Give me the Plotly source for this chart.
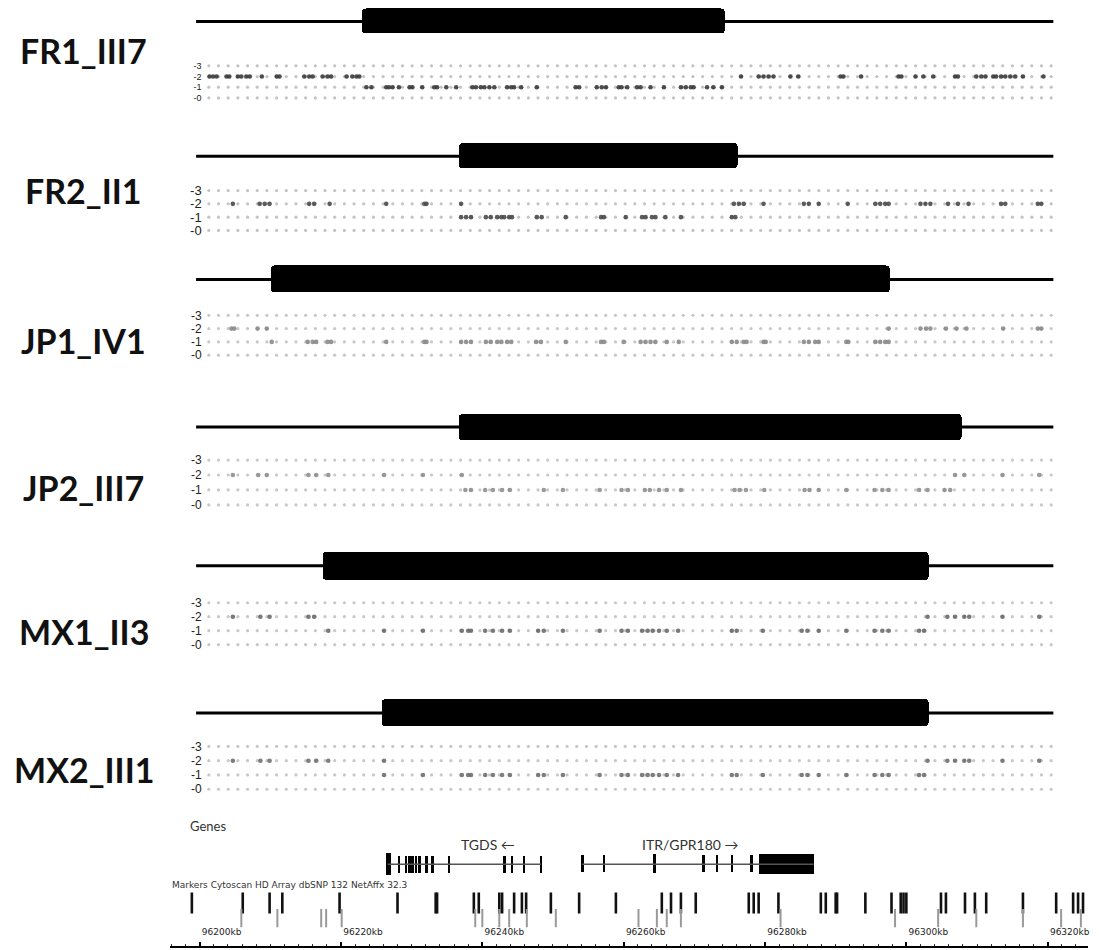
import plotly.graph_objects as go

# ---------------- data (positions in kb, relative to 96200 kb) ----------------
SAMPLES = ["FR1_III7", "FR2_II1", "JP1_IV1", "JP2_III7", "MX1_II3", "MX2_III1"]
DEL_START = [23.0, 36.7, 10.0, 36.6, 17.4, 25.7]
DEL_END = [74.3, 76.1, 97.6, 107.9, 103.2, 103.2]
LINE_START = -0.5
LINE_END = 120.8

ROW_LABELS = ["-0", "-1", "-2", "-3"]

FR1_M2 = [1.4, 1.9, 2.4, 3.8, 4.2, 5.4, 5.9, 6.6, 7.1, 8.8, 10.9, 11.3, 14.8, 15.5, 16.0, 17.4, 18.1, 18.6,
          20.8, 21.6, 22.2, 22.6, 76.6, 79.1, 79.8, 80.5, 81.2, 83.6, 84.7, 90.7, 91.1, 93.6, 98.9, 99.3,
          101.3, 102.4, 103.8, 106.9, 107.3, 109.9, 110.6, 111.2, 112.3, 112.7, 113.4, 114.0, 114.7, 115.4,
          116.5, 119.4]
FR1_M1 = [23.6, 24.3, 26.4, 26.8, 27.3, 28.2, 29.7, 30.1, 31.5, 33.2, 33.6, 34.9, 36.3, 38.6, 39.1, 39.8,
          40.3, 41.0, 41.7, 43.5, 44.1, 44.5, 45.5, 47.7, 53.2, 53.7, 56.2, 56.9, 57.5, 59.3, 59.7, 60.5,
          61.9, 62.4, 63.8, 65.7, 68.1, 68.8, 69.5, 69.9, 71.8, 72.7, 73.9]
FR2_M2 = [4.7, 8.5, 9.2, 9.9, 15.5, 16.2, 18.4, 26.4, 31.8, 32.1, 37.0, 75.6, 76.3, 77.0, 79.8, 85.5, 86.2,
          87.6, 91.7, 95.6, 96.3, 97.0, 97.5, 102.0, 102.7, 103.4, 105.9, 107.3, 108.8, 113.4, 114.0,
          118.6, 119.1]
FR2_M1 = [37.0, 37.7, 38.4, 40.5, 41.2, 42.1, 42.7, 43.1, 43.8, 44.2, 47.7, 48.4, 51.8, 56.8, 57.2, 60.3,
          62.6, 63.1, 64.0, 64.5, 65.9, 68.1, 75.3, 75.8]
JP1_M2 = [4.5, 4.9, 8.2, 9.5, 97.5, 102.0, 102.8, 103.4, 105.6, 107.1, 108.5, 113.7, 118.6, 119.1]
JP1_M1 = [10.2, 15.3, 16.0, 16.5, 18.1, 18.6, 26.4, 31.8, 32.1, 37.0, 37.7, 38.4, 40.5, 41.2, 42.1, 42.7,
          43.5, 44.1, 47.6, 48.3, 51.8, 56.8, 57.2, 60.0, 62.4, 63.1, 63.8, 64.5, 66.1, 67.8, 75.3, 76.0,
          77.0, 77.4, 79.8, 80.1, 85.5, 86.2, 87.1, 87.6, 91.5, 91.8, 95.6, 96.3, 97.0, 97.5]
JP2_M2 = [4.7, 8.3, 9.5, 15.4, 16.5, 18.2, 26.1, 31.6, 37.1, 106.9, 108.2, 113.6, 118.8]
JP2_M1 = [37.6, 38.4, 40.4, 41.5, 42.8, 43.9, 48.7, 51.4, 56.6, 59.7, 60.6, 63.0, 63.7, 65.0, 66.1, 68.1,
          75.7, 76.4, 77.3, 79.9, 85.6, 86.3, 87.6, 91.5, 95.5, 96.6, 97.5, 101.8, 103.0, 105.4, 106.2]
MX1_M2 = [4.7, 8.6, 9.9, 15.4, 16.2, 103.0, 105.8, 106.9, 108.2, 108.9, 113.6, 118.8]
MX1_M1 = [18.2, 26.1, 31.6, 37.1, 38.0, 38.4, 40.4, 41.5, 42.8, 43.9, 47.9, 48.7, 51.4, 56.6, 59.7, 60.6,
          62.6, 63.4, 64.1, 65.0, 66.1, 67.7, 75.3, 76.0, 79.7, 85.2, 86.0, 87.6, 91.5, 95.5, 96.6, 97.5,
          101.8, 102.5]
MX2_M2 = [4.7, 8.6, 9.9, 15.4, 16.5, 18.2, 26.1, 103.0, 105.8, 106.9, 108.2, 108.9, 113.6, 118.8]
MX2_M1 = [26.1, 31.6, 37.1, 38.0, 38.4, 40.4, 41.5, 42.8, 43.9, 47.9, 48.7, 51.4, 56.6, 59.7, 60.6, 62.6,
          63.4, 64.1, 65.0, 66.1, 67.7, 75.3, 76.0, 79.7, 85.2, 86.0, 87.6, 91.5, 95.5, 96.6, 97.5, 101.8,
          102.5]
ROW_M2 = [FR1_M2, FR2_M2, JP1_M2, JP2_M2, MX1_M2, MX2_M2]
ROW_M1 = [FR1_M1, FR2_M1, JP1_M1, JP2_M1, MX1_M1, MX2_M1]

# probe grid (background dots)
PROBE_START = 1.3
PROBE_STEP = 1.37
N_PROBES = 88

# genes
TGDS_RANGE = [26.6, 48.3]
TGDS_EXON_START = [26.3, 28.0, 29.0, 29.5, 29.9, 30.4, 30.9, 31.9, 32.7, 35.1, 42.9, 44.0, 45.7, 48.1]
TGDS_EXON_LEN = [0.8, 0.35, 0.35, 0.35, 0.35, 0.35, 0.35, 0.35, 0.35, 0.35, 0.35, 0.35, 0.35, 0.35]
TGDS_EXON_H = [22, 17, 17, 17, 17, 17, 17, 17, 17, 17, 17, 17, 17, 17]
ITR_RANGE = [54.1, 86.9]
ITR_EXON_START = [53.9, 57.0, 64.1, 71.1, 73.0, 75.1, 77.9, 79.1]
ITR_EXON_LEN = [0.4, 0.35, 0.4, 0.35, 0.35, 0.35, 0.35, 7.8]
ITR_EXON_H = [17, 17, 19, 17, 17, 17, 17, 20]

# array markers
MARKERS_DARK = [-1.1, 6.1, 9.9, 11.7, 19.8, 28.0, 33.4, 33.6, 38.8, 39.5, 42.4, 42.8, 44.5, 45.6, 46.2, 49.7,
                53.7, 58.9, 65.4, 66.7, 68.1, 70.2, 77.7, 78.4, 79.1, 81.9, 87.9, 88.6, 90.0, 90.2, 94.2,
                97.9, 99.2, 99.6, 100.0, 104.9, 105.6, 108.3, 109.7, 111.3, 116.5, 121.2, 123.6, 124.3, 125.0]
MARKERS_GREY = [5.9, 11.0, 17.2, 17.9, 20.1, 39.0, 40.0, 42.4, 43.8, 46.3, 50.4, 62.1, 64.7, 66.1, 68.1,
                82.2, 98.4, 104.5, 109.9, 116.5, 121.9, 124.7]

AXIS_TICKS = [0, 20, 40, 60, 80, 100, 120]
AXIS_LABELS = ["96200kb", "96220kb", "96240kb", "96260kb", "96280kb", "96300kb", "96320kb"]

# ---------------- layout (pixels) ----------------
W, H = 1099, 950
PX0, KB_PX = 200.0, 7.08
BAR_CENTER_PX = [20.5, 155.5, 279, 427, 566, 713.5]
BAR_HEIGHT_PX = [25, 25, 27, 26, 28, 27]
ROW_TOP_PX = [65, 190, 315, 460, 603, 747]
ROW_STEP_PX = [10.7, 13.3, 13.3, 15.0, 14.0, 14.3]
ROW_FONT = [9, 13, 12, 12, 12, 12]
LABEL_Y_PX = [50, 190, 340, 488, 632, 770]
DARK_COLOR = ["#3a3a3a", "#4a4a4a", "#8a8a8a", "#8f8f8f", "#6a6a6a", "#707070"]
GRID_COLOR = ["#c4c4c4", "#c4c4c4", "#c8c8c8", "#c8c8c8", "#c8c8c8", "#c8c8c8"]


def py(p):
    return 1 - p / H


def pxp(p):
    return p / W


fig = go.Figure()
layout = {}

probes = [PROBE_START + PROBE_STEP * k for k in range(N_PROBES)]

for i, name in enumerate(SAMPLES):
    ib = 2 * i + 1
    idot = 2 * i + 2
    yb = "y" if ib == 1 else f"y{ib}"
    yd = f"y{idot}"
    # backbone line
    fig.add_trace(go.Scatter(x=[LINE_START, LINE_END], y=[0, 0], mode="lines",
                             line=dict(color="black", width=3), xaxis="x", yaxis=yb,
                             hoverinfo="skip"))
    # deletion block
    fig.add_trace(go.Bar(base=[DEL_START[i]], x=[DEL_END[i] - DEL_START[i]], y=[0],
                         orientation="h", width=BAR_HEIGHT_PX[i],
                         marker=dict(color="black", line=dict(width=0), cornerradius=4),
                         xaxis="x", yaxis=yb))
    c = BAR_CENTER_PX[i]
    layout["yaxis" if ib == 1 else f"yaxis{ib}"] = dict(
        domain=[py(c + 16), py(c - 16)], range=[-16, 16], visible=False, anchor="x",
        fixedrange=True)
    # dot track
    gx, gy = [], []
    for r in range(4):
        gx += probes
        gy += [r] * N_PROBES
    fig.add_trace(go.Scatter(x=gx, y=gy, mode="markers",
                             marker=dict(color=GRID_COLOR[i], size=3.2, line=dict(width=0)),
                             xaxis="x", yaxis=yd, hoverinfo="skip"))
    fig.add_trace(go.Scatter(x=ROW_M2[i] + ROW_M1[i],
                             y=[2] * len(ROW_M2[i]) + [1] * len(ROW_M1[i]), mode="markers",
                             marker=dict(color=DARK_COLOR[i], size=4.6, line=dict(width=0),
                                         opacity=0.9),
                             xaxis="x", yaxis=yd, hoverinfo="skip"))
    top = ROW_TOP_PX[i]
    s = ROW_STEP_PX[i]
    bottom = top + 3 * s
    layout[f"yaxis{idot}"] = dict(
        domain=[py(bottom + s / 2), py(top - s / 2)], range=[-0.5, 3.5], anchor="free",
        position=pxp(203), tickvals=[0, 1, 2, 3], ticktext=ROW_LABELS, ticks="",
        showgrid=False, zeroline=False, showline=False, ticklabelstandoff=1,
        tickfont=dict(family="Liberation Sans", size=ROW_FONT[i], color="#222"), fixedrange=True)

# gene track
iy_gene = 13
fig.add_trace(go.Scatter(x=TGDS_RANGE, y=[0, 0], mode="lines", line=dict(color="#555", width=1.5),
                         xaxis="x", yaxis=f"y{iy_gene}", hoverinfo="skip"))
fig.add_trace(go.Scatter(x=ITR_RANGE, y=[0, 0], mode="lines", line=dict(color="#555", width=1.5),
                         xaxis="x", yaxis=f"y{iy_gene}", hoverinfo="skip"))
fig.add_trace(go.Bar(base=TGDS_EXON_START, x=TGDS_EXON_LEN, y=[0] * len(TGDS_EXON_START),
                     width=TGDS_EXON_H, orientation="h", marker=dict(color="black", line=dict(width=0)),
                     xaxis="x", yaxis=f"y{iy_gene}"))
fig.add_trace(go.Bar(base=ITR_EXON_START, x=ITR_EXON_LEN, y=[0] * len(ITR_EXON_START),
                     width=ITR_EXON_H, orientation="h", marker=dict(color="black", line=dict(width=0)),
                     xaxis="x", yaxis=f"y{iy_gene}"))
layout[f"yaxis{iy_gene}"] = dict(domain=[py(880), py(850)], range=[-15, 15], visible=False,
                                 anchor="x", fixedrange=True)

# marker track
iy_mk = 14
fig.add_trace(go.Scatter(x=MARKERS_DARK, y=[1] * len(MARKERS_DARK), mode="markers",
                         marker=dict(symbol="line-ns", size=15, line=dict(color="#111", width=2.6)),
                         xaxis="x", yaxis=f"y{iy_mk}", hoverinfo="skip"))
fig.add_trace(go.Scatter(x=MARKERS_GREY, y=[0] * len(MARKERS_GREY), mode="markers",
                         marker=dict(symbol="line-ns", size=13, line=dict(color="#9a9a9a", width=2)),
                         xaxis="x", yaxis=f"y{iy_mk}", hoverinfo="skip"))
layout[f"yaxis{iy_mk}"] = dict(domain=[py(934), py(889)], range=[-1, 2], visible=False,
                               anchor="x", fixedrange=True)

layout["xaxis"] = dict(
    domain=[pxp(170), pxp(1090)], range=[(170 - PX0) / KB_PX, (1090 - PX0) / KB_PX],
    anchor="free", position=py(948), side="top", showline=True, linecolor="black", linewidth=2,
    ticks="outside", ticklen=4, tickwidth=1.5, tickcolor="black", tickvals=AXIS_TICKS,
    ticktext=AXIS_LABELS, ticklabelshift=22, ticklabelstandoff=3,
    tickfont=dict(family="DejaVu Sans", size=9, color="#222"),
    minor=dict(tick0=0, dtick=2, ticks="outside", ticklen=2.5, tickcolor="#333", tickwidth=1),
    showgrid=False, zeroline=False, fixedrange=True)

annotations = []
for i, name in enumerate(SAMPLES):
    annotations.append(dict(x=pxp(84), y=py(LABEL_Y_PX[i]), xref="paper", yref="paper",
                            text=f"<b>{name}</b>", showarrow=False, xanchor="center",
                            yanchor="middle", font=dict(family="Lato", size=34, color="#111")))
annotations += [
    dict(x=pxp(188), y=py(827), xref="paper", yref="paper", text="Genes", showarrow=False,
         xanchor="left", yanchor="middle", font=dict(family="Lato", size=13, color="#333")),
    dict(x=pxp(489), y=py(845), xref="paper", yref="paper", text="TGDS ←", showarrow=False,
         xanchor="center", yanchor="middle", font=dict(family="Lato", size=14, color="#333")),
    dict(x=pxp(692), y=py(845), xref="paper", yref="paper", text="ITR/GPR180 →", showarrow=False,
         xanchor="center", yanchor="middle", font=dict(family="Lato", size=14, color="#333")),
    dict(x=pxp(170), y=py(886), xref="paper", yref="paper",
         text="Markers Cytoscan HD Array dbSNP 132 NetAffx 32.3", showarrow=False,
         xanchor="left", yanchor="middle", font=dict(family="DejaVu Sans", size=9, color="#333")),
]

fig.update_layout(width=W, height=H, margin=dict(l=0, r=0, t=0, b=0), paper_bgcolor="white",
                  plot_bgcolor="rgba(0,0,0,0)", showlegend=False, bargap=0,
                  annotations=annotations, **layout)

fig.write_html("out.html", config={"displayModeBar": False},
               post_script="document.body.style.margin='0px';")
